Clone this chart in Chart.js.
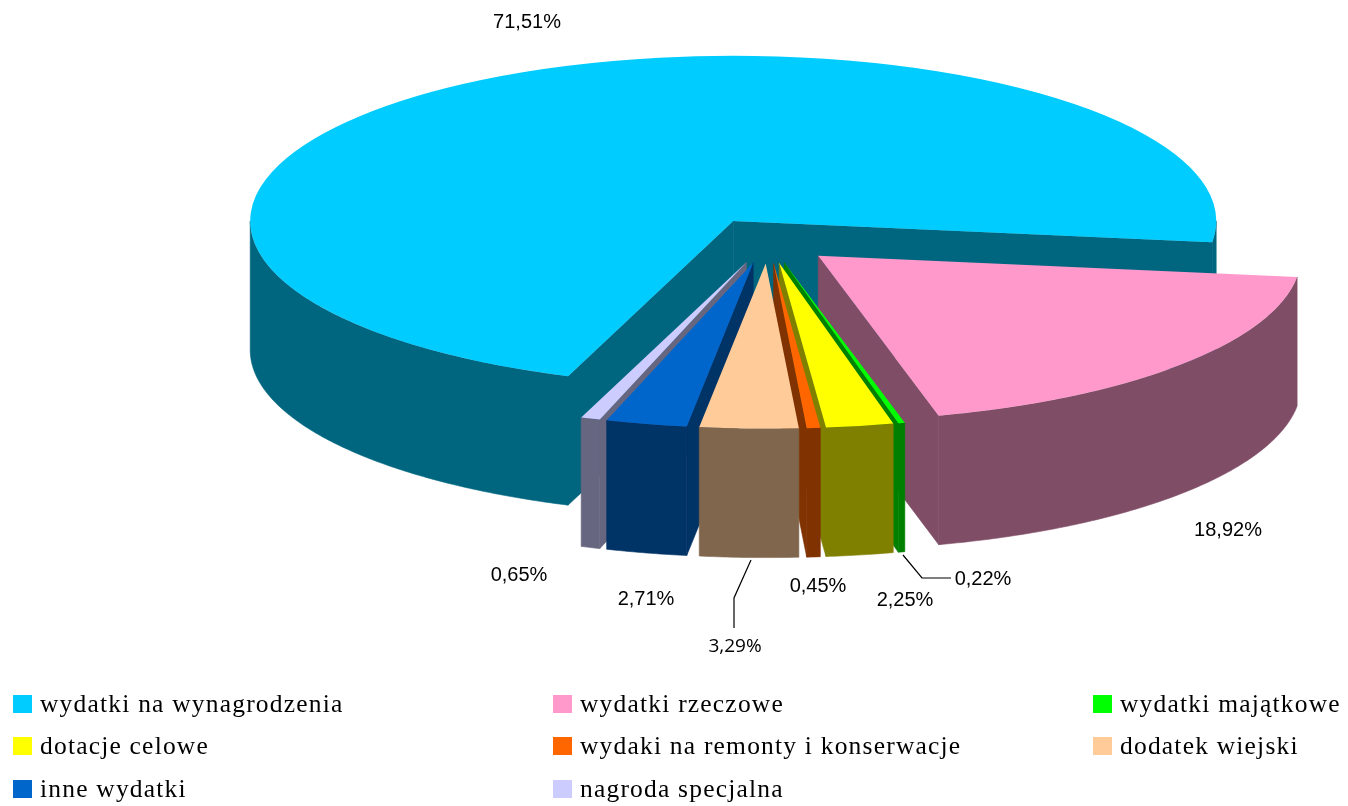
<!DOCTYPE html>
<html>
<head>
<meta charset="utf-8">
<script src="https://cdn.jsdelivr.net/npm/chart.js@4.4.1/dist/chart.umd.min.js"></script>
<style>
  html, body { margin: 0; padding: 0; background: #fff; }
  #wrap { position: relative; width: 1348px; height: 806px; overflow: hidden; }
  #chart { position: absolute; left: 0; top: 0; }
  .item { position: absolute; height: 30px; display: flex; align-items: center;
          font-family: "Liberation Serif", "Times New Roman", serif; font-size: 25.5px;
          letter-spacing: 1.2px; color: #000; white-space: nowrap; }
  .sw { width: 19px; height: 18px; margin-right: 8px; flex: none; }
</style>
</head>
<body>
<div id="wrap">
  <canvas id="chart" width="1348" height="806"></canvas>
</div>
<script>
const categories = [
    'wydatki na wynagrodzenia', 'wydatki rzeczowe', 'wydatki majątkowe',
    'dotacje celowe', 'wydaki na remonty i konserwacje', 'dodatek wiejski',
    'inne wydatki', 'nagroda specjalna'
];
const shares = [71.51, 18.92, 0.22, 2.25, 0.45, 3.29, 2.71, 0.65];
const valueLabels = shares.map(v => v.toFixed(2).replace('.', ',') + '%');

const topColors  = ['#00CCFF', '#FF99CC', '#00FF00', '#FFFF00', '#FF6600', '#FFCC99', '#0066CC', '#CCCCFF'];
const sideColors = ['#006680', '#804D66', '#008000', '#808000', '#803300', '#80664D', '#003366', '#666680'];

// look of the 3d pie
const TILT = 0.342;      // vertical squash of the disc
const DEPTH = 129;       // thickness in px
const EXPLODE = 67;      // distance each slice is pulled out
const RADIUS = 483;

// label placement (text centres) and leader lines
const labelPos = [[527, 22], [1228, 530], [983, 579], [905, 600], [818, 586], [735, 647], [646, 599], [519, 575]];
const leaders = {
    2: [[903, 555], [922, 578], [951, 578]],
    5: [[751, 560], [734, 598], [734, 628]]
};

function sliceGeom(el) {
    const mid = (el.startAngle + el.endAngle) / 2;
    const ox = EXPLODE * Math.cos(mid), oy = EXPLODE * Math.sin(mid);
    return { mid, ox, oy, cx: el.x + ox, cy: el.y + TILT * oy, r: el.outerRadius };
}

function drawSlice(ctx, el, i) {
    const g = sliceGeom(el);
    const px = a => g.cx + g.r * Math.cos(a);
    const py = a => g.cy + TILT * g.r * Math.sin(a);
    const s = el.startAngle, e = el.endAngle;
    ctx.save();
    ctx.fillStyle = sideColors[i];
    ctx.strokeStyle = sideColors[i];
    ctx.lineWidth = 0.6;

    // flat cut faces that look toward the viewer
    const face = a => {
        ctx.beginPath();
        ctx.moveTo(g.cx, g.cy);
        ctx.lineTo(px(a), py(a));
        ctx.lineTo(px(a), py(a) + DEPTH);
        ctx.lineTo(g.cx, g.cy + DEPTH);
        ctx.closePath();
        ctx.fill();
        ctx.stroke();
    };
    if (Math.cos(s) < 0) face(s);
    if (Math.cos(e) > 0) face(e);

    // curved outer wall, front half only
    for (let n = -1; n <= 2; n++) {
        const lo = Math.max(s, 2 * Math.PI * n);
        const hi = Math.min(e, Math.PI + 2 * Math.PI * n);
        if (hi <= lo) continue;
        const steps = Math.max(2, Math.ceil((hi - lo) / 0.01));
        ctx.beginPath();
        for (let k = 0; k <= steps; k++) {
            const a = lo + (hi - lo) * k / steps;
            k === 0 ? ctx.moveTo(px(a), py(a)) : ctx.lineTo(px(a), py(a));
        }
        for (let k = steps; k >= 0; k--) {
            const a = lo + (hi - lo) * k / steps;
            ctx.lineTo(px(a), py(a) + DEPTH);
        }
        ctx.closePath();
        ctx.fill();
        ctx.stroke();
    }
    ctx.restore();

    // top face drawn by the arc element itself, squashed into an ellipse
    ctx.save();
    ctx.translate(el.x, el.y);
    ctx.scale(1, TILT);
    ctx.translate(-el.x, -el.y);
    ctx.translate(g.ox, g.oy);
    el.draw(ctx);
    ctx.restore();
}

const pie3d = {
    id: 'pie3d',
    beforeDatasetDraw(chart, args) {
        const ctx = chart.ctx;
        const els = args.meta.data;
        // back slices first, front slices last
        const order = els.map((el, i) => i).sort((a, b) =>
            Math.sin(sliceGeom(els[a]).mid) - Math.sin(sliceGeom(els[b]).mid));
        order.forEach(i => drawSlice(ctx, els[i], i));
        return false;
    },
    afterDraw(chart) {
        const ctx = chart.ctx;
        ctx.save();
        ctx.strokeStyle = '#000';
        ctx.lineWidth = 1.2;
        Object.values(leaders).forEach(pts => {
            ctx.beginPath();
            pts.forEach((p, k) => k ? ctx.lineTo(p[0], p[1]) : ctx.moveTo(p[0], p[1]));
            ctx.stroke();
        });
        ctx.fillStyle = '#000';
        ctx.textAlign = 'center';
        ctx.textBaseline = 'middle';
        valueLabels.forEach((t, i) => {
            ctx.font = i === 5 ? '19px "Open Sans", sans-serif' : '20px "Liberation Sans", Arial, sans-serif';
            ctx.fillText(t, labelPos[i][0], labelPos[i][1]);
        });
        ctx.restore();
    }
};

new Chart(document.getElementById('chart'), {
    type: 'pie',
    data: {
        labels: categories,
        datasets: [{
            data: shares,
            backgroundColor: topColors,
            borderWidth: 0,
            radius: RADIUS
        }]
    },
    options: {
        responsive: false,
        animation: false,
        devicePixelRatio: 1,
        rotation: 200,
        layout: { padding: { left: 188, right: 0, top: 0, bottom: 325 } },
        plugins: {
            legend: { display: false },
            tooltip: { enabled: false }
        }
    },
    plugins: [pie3d]
});

// legend in three columns
const legendCols = [13, 553, 1093];
const legendRows = [704, 746, 789];
const wrap = document.getElementById('wrap');
categories.forEach((name, i) => {
    const item = document.createElement('div');
    item.className = 'item';
    item.style.left = legendCols[i % 3] + 'px';
    item.style.top = (legendRows[Math.floor(i / 3)] - 15) + 'px';
    const sw = document.createElement('span');
    sw.className = 'sw';
    sw.style.background = topColors[i];
    item.appendChild(sw);
    item.appendChild(document.createTextNode(name));
    wrap.appendChild(item);
});
</script>
</body>
</html>
